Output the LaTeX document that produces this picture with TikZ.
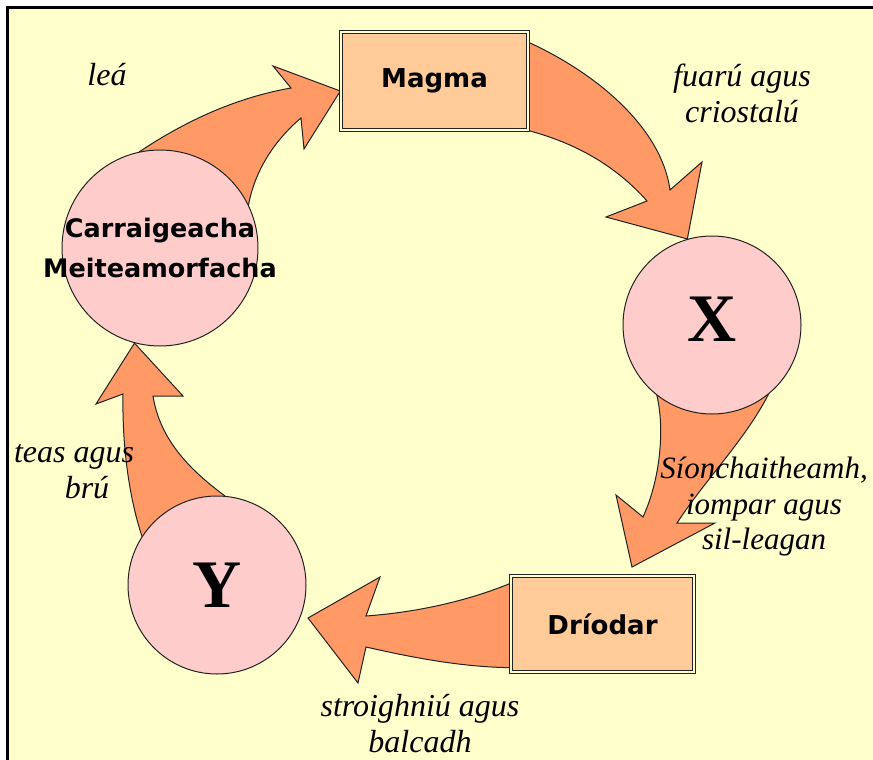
\documentclass[tikz,border=0pt]{standalone}
\usepackage{fontspec}
\setmainfont{Liberation Serif}
\newfontfamily\comicFont{DejaVu Sans}
\usepackage{tikz}
\usetikzlibrary{backgrounds}
\usetikzlibrary{positioning}

\definecolor{paperYellow}{HTML}{FFFFCC}
\definecolor{rockPink}{HTML}{FFCCCC}
\definecolor{boxTan}{HTML}{FFCC99}
\definecolor{arrowOrange}{HTML}{FF9966}
\definecolor{inkGrey}{HTML}{222222}

\begin{document}
\begin{tikzpicture}[
  x=1pt, y=-1pt,
  rockCircle/.style={circle, draw=inkGrey, line width=1pt, fill=rockPink, inner sep=0pt},
  stageBox/.style={rectangle, draw=inkGrey, line width=1.3pt, double=paperYellow, double distance=2pt,
    fill=boxTan, inner sep=0pt, minimum width=183pt, minimum height=96pt,
    font=\comicFont\bfseries\fontsize{26}{30}\selectfont},
  stepLabel/.style={font=\itshape\fontsize{32}{36}\selectfont, align=center, inner sep=0pt},
]

\tikzset{
  bigArrow/.style={draw=inkGrey, line width=1pt, fill=arrowOrange, line join=miter},
  letterFont/.style={font=\bfseries\fontsize{68}{68}\selectfont}
}

\useasboundingbox (0,0) rectangle (873,760);

% --- frame ---
\begin{pgfonlayer}{background}
\fill[white] (0,0) rectangle (873,760);
\draw[line width=3pt, fill=paperYellow] (7.5,7.5) rectangle (880,770);
\end{pgfonlayer}

% --- rocks ---
\node[rockCircle, minimum size=196pt,
  label={[font=\comicFont\bfseries\fontsize{25.5}{40}\selectfont, align=center]center:Carraigeacha\\Meiteamorfacha}]
  (meta) at (160,248) {};
\node[rockCircle, minimum size=178pt, letterFont, text depth=12pt] (rockX) at (712,325) {X};
\node[rockCircle, minimum size=178pt, letterFont] (rockY) at (217,585) {Y};
\node[stageBox, minimum width=187pt, minimum height=98pt] (magma) at (434.5,81) {Magma};
\node[stageBox] (driodar) at (602.5,624) {Dríodar};

% --- block arrows ---
\begin{pgfonlayer}{background}
\draw[bigArrow] (meta.102) .. controls (190,118) and (240,97) .. (291,88) -- (273,66)
  -- ([yshift=-10pt]magma.west) -- (304,149) -- (301,118)
  .. controls (275,140) and (255,170) .. (meta.26) -- (meta.center) -- cycle;
\draw[bigArrow] ([yshift=-11pt]magma.north east) .. controls (600,75) and (662,130) .. (670,190)
  -- (702,162) -- (rockX.106) -- (606,217) -- (647,201)
  .. controls (615,165) and (575,143) .. (magma.south east) -- (magma.center) -- cycle;
\draw[bigArrow] (rockX.232) .. controls (665,430) and (660,480) .. (643,517) -- (616,495)
  -- (632,567) -- (715,523) -- (677,523)
  .. controls (705,480) and (745,440) .. (rockX.309) -- (rockX.center) -- cycle;
\draw[bigArrow] ([yshift=-8pt]driodar.north west) .. controls (470,600) and (420,612) .. (366,616)
  -- (380,577) -- (308,618) -- (358,683) -- (366,647)
  .. controls (410,657) and (460,667) .. ([yshift=5pt]driodar.south west) -- (driodar.center) -- cycle;
\draw[bigArrow] (rockY.147) .. controls (130,500) and (122,450) .. (123,394) -- (96,404)
  -- (meta.255) -- (183,396) -- (153,396)
  .. controls (160,440) and (190,470) .. (rockY.85) -- (rockY.center) -- cycle;
\end{pgfonlayer}

% --- step labels ---
\node[stepLabel] (meltLbl) at (107,75) {leá};
\node[stepLabel] (coolLbl) at (742,93) {fuarú agus\\criostalú};
\node[stepLabel, font=\itshape\fontsize{31}{35.5}\selectfont] (weatherLbl) at (764,507) {Síonchaitheamh,\\iompar agus\\sil-leagan};
\node[stepLabel] (heatLbl) at (74,472) {teas agus\\\hspace*{26pt}brú};
\node[stepLabel] (cementLbl) at (420,724) {stroighniú agus\\balcadh};

\end{tikzpicture}
\end{document}
